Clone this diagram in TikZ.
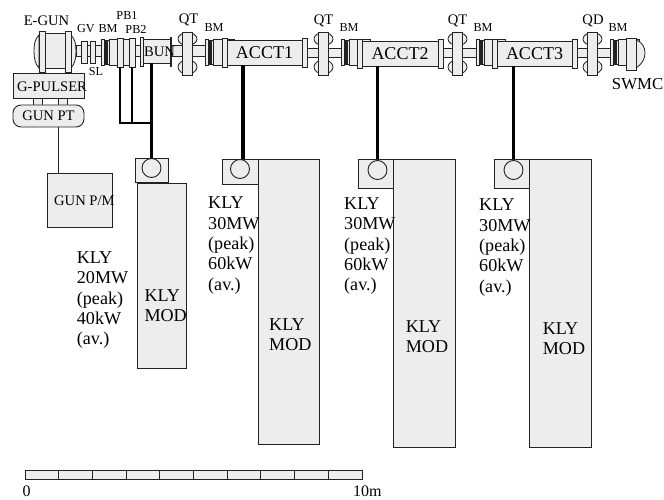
\documentclass[tikz,border=0pt]{standalone}
\usepackage{fontspec}
\setmainfont{Liberation Serif}
\usetikzlibrary{calc}
\definecolor{bg}{HTML}{EDEDED}
\definecolor{ln}{HTML}{222222}
\tikzset{
 part/.style={draw=ln,fill=bg,line width=0.9pt,inner sep=0pt,outer sep=0pt,align=center,font=\fontsize{15}{17}\selectfont},
 beam/.style={draw=ln,fill=bg,line width=0.8pt},
 feed/.style={line width=3.8pt,black},
 thin feed/.style={line width=2.2pt,black},
 wire/.style={draw=ln,line width=0.8pt},
 klycirc/.style={draw=ln,line width=0.9pt,circle,minimum size=19pt,inner sep=0pt},
 lab/.style={inner sep=0pt,font=\fontsize{12.2}{14}\selectfont},
 mid/.style={inner sep=0pt,font=\fontsize{14.6}{16}\selectfont},
 big/.style={inner sep=0pt,align=left,anchor=west,font=\fontsize{18.1}{20.3}\selectfont},
}
% \bx{name}{x1}{y1}{x2}{y2}{text}
\newcommand{\bx}[6]{\node[part,minimum width=#4pt-#2pt,minimum height=#5pt-#3pt,anchor=north west] (#1) at (#2,#3) {#6};}
\newcommand{\bmon}[2]{% name, left x
 \bx{#1}{#2}{39.5}{#2+3.5}{65.5}{}
 \bx{#1b}{#2+4}{40.5}{#2+8}{64.5}{}
 \bx{#1c}{#2+8.5}{39.5}{#2+12}{65.5}{}
 \draw[wire] (#2+5.3,40.5) -- (#2+5.3,64.5);
 \draw[wire] (#2+6.7,40.5) -- (#2+6.7,64.5);
}
\newcommand{\qd}[2]{% name, left x of the yoke
 \draw[wire,fill=bg] (#2+5.5,39) ellipse (9.5 and 6.5);
 \draw[wire,fill=bg] (#2+5.5,67) ellipse (9.5 and 7);
 \bx{#1}{#2}{32.5}{#2+10.5}{75}{}
}
\begin{document}
\begin{tikzpicture}[x=1pt,y=-1pt]
\useasboundingbox (0,0) rectangle (664,500);
% beam pipe
\draw[beam] (76,45) rectangle (222,56);
\draw[beam] (307,48) rectangle (357,57);
\draw[beam] (443,48) rectangle (492,57);
\draw[beam] (577,48) rectangle (626,57);
% electron gun
\draw[wire,fill=bg] (39,35) .. controls (35,39) and (34,44) .. (34,51) .. controls (34,58) and (35,64) .. (39,68) -- cycle;
\draw[wire,fill=bg] (71,35) .. controls (75,39) and (76,44) .. (76,51) .. controls (76,58) and (75,64) .. (71,68) -- cycle;
\bx{gunbody}{45}{33}{65}{68}{}
\bx{gunfl}{39}{31}{45}{72}{}
\bx{gunfr}{65}{31}{71}{72}{}
% valves and monitors
\bx{gva}{81}{41}{87}{63}{}
\bx{gvb}{90}{41}{95}{63}{}
\bmon{bmone}{101}
\bx{pba}{117}{38}{123}{67}{}
\bx{pbb}{129}{38}{135}{67}{}
\bx{bunfl}{140}{37}{143}{66}{}
\bx{bun}{143}{39}{171}{63}{}
\draw[wire,line width=1.2pt] (171,37) -- (171,67);
\node[mid] (buntext) at (159.5,52) {BUN};
\qd{qtone}{182}
\bmon{bmtwo}{205}
% accelerating tubes
\bx{aonel}{222}{38}{227}{67}{}
\bx{aone}{227}{40}{302}{65}{\fontsize{18}{18}\selectfont ACCT1}
\bx{aoner}{302}{38}{307}{67}{}
\qd{qttwo}{318}
\bmon{bmthree}{341}
\bx{atwol}{357}{39}{362}{68}{}
\bx{atwo}{362}{41}{438}{66}{\fontsize{18}{18}\selectfont ACCT2}
\bx{atwor}{438}{39}{443}{68}{}
\qd{qtthree}{452}
\bmon{bmfour}{476}
\bx{athreel}{492}{39}{497}{68}{}
\bx{athree}{497}{41}{572}{66}{\fontsize{18}{18}\selectfont ACCT3}
\bx{athreer}{572}{39}{577}{68}{}
\qd{qdone}{587}
\bmon{bmfive}{610}
\draw[wire,fill=bg] (636,40) .. controls (642,42) and (645,47) .. (645,53) .. controls (645,59) and (642,64) .. (636,68) -- cycle;
\bx{sw}{626}{38}{636}{70}{}
% gun electronics
\bx{pla}{33}{97}{42}{106}{}
\bx{plb}{58}{97}{67}{106}{}
\bx{gp}{13}{73}{84}{98}{}
\node[mid,anchor=west] (gptext) at (17,87) {G-PULSER};
\node[part,rounded corners=8pt,minimum width=71pt,minimum height=22pt,anchor=north west,font=\fontsize{14.6}{16}\selectfont] (gpt) at (13,105) {GUN PT};
\bx{gpm}{47}{173}{112}{227}{}
\node[mid,anchor=west] (gpmtext) at (54,201) {GUN P/M};
\coordinate (gw) at (58.5,127);
\draw[wire] (gw |- gpt.south) -- (gw |- gpm.north);
% klystrons
\bx{ka}{135}{158}{168}{182}{}
\node[klycirc] (ca) at (151.5,168) {};
\bx{ma}{137}{183}{186}{368}{}
\bx{kb}{222}{159}{258}{184}{}
\node[klycirc] (cb) at (240,169) {};
\bx{mb}{258}{159}{319}{444}{}
\bx{kc}{358}{159}{393}{188}{}
\node[klycirc] (cc) at (377.5,170) {};
\bx{mc}{393}{159}{455.5}{447}{}
\bx{kd}{494}{159}{529}{188}{}
\node[klycirc] (cd) at (513.5,170) {};
\bx{md}{529}{159}{591.5}{447}{}
\node[big] (mat) at (144.3,306) {KLY\\MOD};
\node[big] (mbt) at (269,335) {KLY\\MOD};
\node[big] (mct) at (405.7,336.5) {KLY\\MOD};
\node[big] (mdt) at (542.7,339) {KLY\\MOD};
% waveguides
\coordinate (j) at (ca.north |- 0,123);
\draw[feed] (bun.south -| ca.north) -- (ka.north -| ca.north);
\draw[thin feed] (pba.south) -- (pba.south |- j) -- (j);
\draw[thin feed] (pbb.south) -- (pbb.south |- j);
\draw[feed] (aone.south -| 243,0) -- (kb.north -| 243,0);
\draw[feed] (atwo.south -| cc.north) -- (kc.north -| cc.north);
\draw[feed] (athree.south -| cd.north) -- (kd.north -| cd.north);
% labels
\node[mid] (l1) at (46.5,21) {E-GUN};
\node[lab] (l2) at (86,28.5) {GV};
\node[lab] (l3) at (108,28.5) {BM};
\node[lab] (l4) at (96,71.5) {SL};
\node[lab] (l5) at (127,15) {PB1};
\node[lab] (l6) at (136,29) {PB2};
\node[mid] (l7) at (188.5,20) {QT};
\node[lab] (l8) at (214,28) {BM};
\node[mid] (l9) at (323.5,21) {QT};
\node[lab] (l10) at (349,28) {BM};
\node[mid] (l11) at (457.5,21) {QT};
\node[lab] (l12) at (483,28) {BM};
\node[mid] (l13) at (593,21) {QD};
\node[lab] (l14) at (618,28) {BM};
\node[inner sep=0pt,anchor=east,font=\fontsize{16.8}{19}\selectfont] (l15) at (663.5,84) {SWMC};
\node[big] (ta) at (76.7,300) {KLY\\20MW\\(peak)\\40kW\\(av.)};
\node[big] (tb) at (208,245.5) {KLY\\30MW\\(peak)\\60kW\\(av.)};
\node[big] (tc) at (344,246) {KLY\\30MW\\(peak)\\60kW\\(av.)};
\node[big] (td) at (479,247.5) {KLY\\30MW\\(peak)\\60kW\\(av.)};
% scale bar
\foreach \i in {0,...,9}{
 \node[part,minimum width=33.7pt,minimum height=9pt,anchor=north west] (s\i) at ({25+33.7*\i},470) {};
}
\node[inner sep=0pt,font=\fontsize{16}{18}\selectfont] (s0l) at (26.5,491.5) {0};
\node[inner sep=0pt,font=\fontsize{16}{18}\selectfont,anchor=west] (s10l) at (353,491.5) {10m};
\end{tikzpicture}
\end{document}
